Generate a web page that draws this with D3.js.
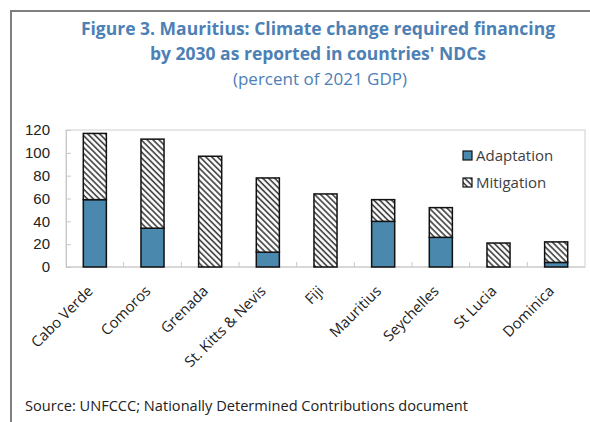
<!DOCTYPE html>
<html><head><meta charset="utf-8">
<script src="https://cdn.jsdelivr.net/npm/d3@7"></script>
<style>body{margin:0;background:#fff}svg{display:block}</style>
</head><body>
<script>
const categories = ["Cabo Verde","Comoros","Grenada","St. Kitts & Nevis","Fiji","Mauritius","Seychelles","St Lucia","Dominica"];
const adaptation = [59, 34, 0, 13, 0, 40, 26, 0, 4];
const mitigation = [58, 78, 97, 65, 64, 19, 26, 21, 18];
const yTicks = [0,20,40,60,80,100,120];
const seriesNames = ["Adaptation","Mitigation"];

const W=590,H=422;
const svg=d3.select("body").append("svg").attr("width",W).attr("height",H);
const defs=svg.append("defs");
const pat=defs.append("pattern").attr("id","hatch").attr("patternUnits","userSpaceOnUse")
  .attr("width",4.2).attr("height",4.2).attr("patternTransform","rotate(-45)");
pat.append("rect").attr("width",4.2).attr("height",4.2).attr("fill","#fff");
pat.append("line").attr("x1",1).attr("y1",0).attr("x2",1).attr("y2",4.2).attr("stroke","#3a3a3a").attr("stroke-width",1.6);

// frame
svg.append("line").attr("x1",11).attr("y1",11).attr("x2",600).attr("y2",11).attr("stroke","#7f7f7f").attr("stroke-width",2);
svg.append("line").attr("x1",11).attr("y1",10).attr("x2",11).attr("y2",422).attr("stroke","#7f7f7f").attr("stroke-width",2);

const font="'Open Sans', 'Noto Sans', sans-serif";
const tcol="#4d80b5";
svg.append("text").attr("x",318).attr("y",35).attr("text-anchor","middle").attr("font-family",font)
  .attr("font-weight","bold").attr("font-size",17.5).attr("fill",tcol).text("Figure 3. Mauritius: Climate change required financing");
svg.append("text").attr("x",318).attr("y",60).attr("text-anchor","middle").attr("font-family",font)
  .attr("font-weight","bold").attr("font-size",17.5).attr("fill",tcol).text("by 2030 as reported in countries' NDCs");
svg.append("text").attr("x",320).attr("y",85).attr("text-anchor","middle").attr("font-family",font)
  .attr("font-size",17).attr("fill",tcol).text("(percent of 2021 GDP)");

const L=66,R=585,T=130,B=267;
const x=d3.scaleBand().domain(categories).range([L,R]).paddingInner(0.6).paddingOuter(0.3);
const xb=d3.scaleBand().domain(categories).range([L,R]);
const y=d3.scaleLinear().domain([0,120]).range([B,T]);

// plot border
svg.append("rect").attr("x",L).attr("y",T).attr("width",R-L).attr("height",B-T).attr("fill","none").attr("stroke","#d0d0d0").attr("stroke-width",1);

// y axis
const ya=svg.append("g").attr("transform",`translate(${L},0)`).call(d3.axisLeft(y).tickValues(yTicks).tickSize(-5).tickPadding(16));
ya.select(".domain").attr("stroke","#c8c8c8");
ya.selectAll(".tick line").attr("stroke","#c8c8c8");
ya.selectAll(".tick text").attr("font-family","'Liberation Sans', Arial, sans-serif").attr("font-size",15).attr("fill","#222");

// x axis ticks between categories
const xa=svg.append("g").attr("transform",`translate(0,${B})`);
xa.append("line").attr("x1",L).attr("x2",R).attr("stroke","#c8c8c8");
xa.selectAll("line.t").data(categories.slice(1)).join("line").attr("class","t")
  .attr("x1",d=>xb(d)).attr("x2",d=>xb(d)).attr("y1",0).attr("y2",-5).attr("stroke","#c8c8c8");
xa.selectAll("text").data(categories).join("text")
  .attr("transform",d=>`translate(${xb(d)+xb.bandwidth()/2-1},${25}) rotate(-45)`)
  .attr("text-anchor","end").attr("font-family",font).attr("font-size",14.8).attr("fill","#222").text(d=>d);

// bars
const stack=categories.map((c,i)=>({c,a:adaptation[i],m:mitigation[i]}));
const g=svg.append("g");
g.selectAll("rect.a").data(stack.filter(d=>d.a>0)).join("rect").attr("class","a")
  .attr("x",d=>x(d.c)).attr("width",x.bandwidth()).attr("y",d=>y(d.a)).attr("height",d=>y(0)-y(d.a))
  .attr("fill","#4a88ad").attr("stroke","#111").attr("stroke-width",1.5);
g.selectAll("rect.m").data(stack).join("rect").attr("class","m")
  .attr("x",d=>x(d.c)).attr("width",x.bandwidth()).attr("y",d=>y(d.a+d.m)).attr("height",d=>y(d.a)-y(d.a+d.m))
  .attr("fill","url(#hatch)").attr("stroke","#111").attr("stroke-width",1.5);

// legend
const lg=svg.append("g");
seriesNames.forEach((n,i)=>{
  const yy=151+i*27;
  lg.append("rect").attr("x",463).attr("y",yy).attr("width",9).attr("height",9)
    .attr("fill",i===0?"#4a88ad":"url(#hatch)").attr("stroke","#111").attr("stroke-width",1.2);
  lg.append("text").attr("x",476).attr("y",yy+10).attr("font-family",font).attr("font-size",15).attr("fill","#404040").text(n);
});

svg.append("text").attr("x",25).attr("y",411).attr("font-family",font).attr("font-size",14.6).attr("fill","#222")
  .text("Source: UNFCCC; Nationally Determined Contributions document");
</script>
</body></html>
